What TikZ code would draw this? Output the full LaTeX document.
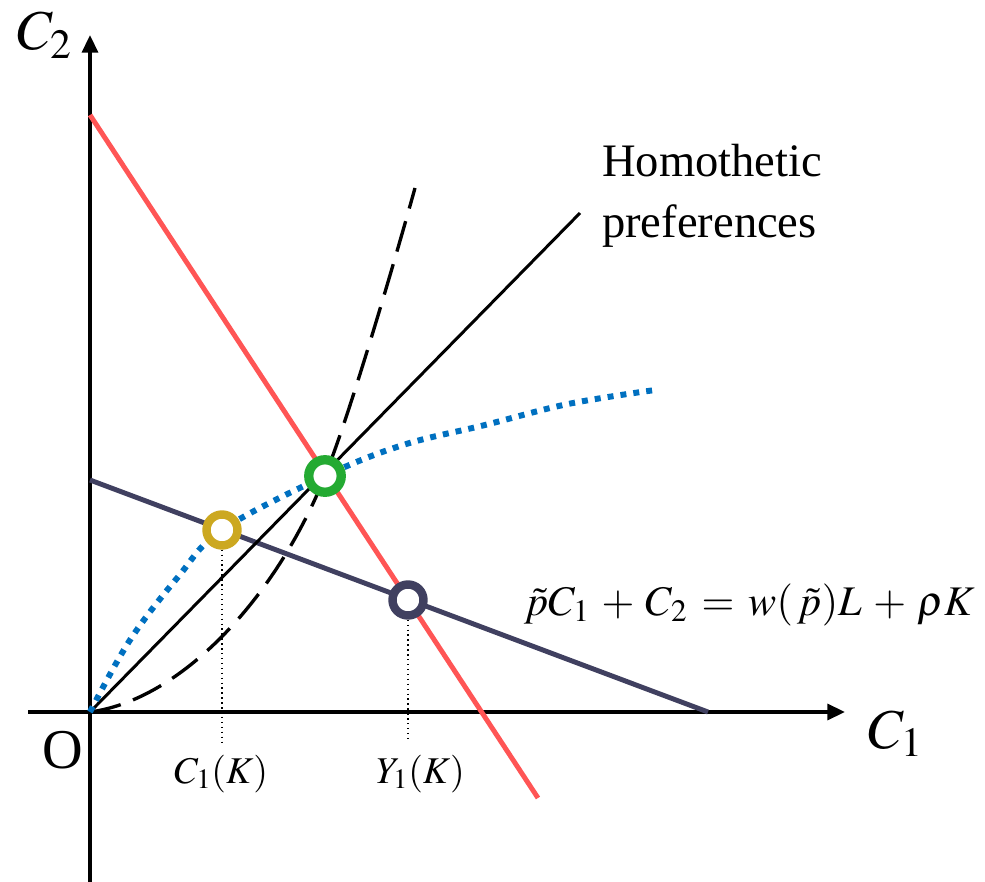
\documentclass[tikz,border=0pt]{standalone}
\usepackage{mathptmx}
\usepackage[no-math]{fontspec}
\setmainfont{Liberation Serif}
\usetikzlibrary{arrows.meta}
\definecolor{budgetred}{RGB}{255,85,85}
\definecolor{budgetnavy}{RGB}{64,64,96}
\definecolor{eqgreen}{RGB}{36,170,50}
\definecolor{autgold}{RGB}{204,168,32}
\definecolor{pathblue}{RGB}{0,112,192}

\begin{document}
\begin{tikzpicture}[x=0.02cm,y=-0.02cm,
	axis/.style={line width=2pt,-{Triangle[length=10pt,width=9pt]}},
	budget/.style={line width=2.8pt},
	ring/.style={circle,fill=white,inner sep=0pt,minimum size=0.62cm,line width=4.8pt},
	guide/.style={line width=0.8pt,dotted},
	big/.style={font=\fontsize{32}{36}\selectfont},
	mid/.style={font=\fontsize{21.5}{26}\selectfont}]
			\useasboundingbox (0,0) rectangle (985,882);
			\coordinate (O) at (90,712);
			% axes
			\draw[axis] (90,882) -- (90,35);
			\draw[axis] (28,712) -- (845,712);
			\node[big,anchor=base west] (ylab) at (11,50) {$C_2$};
			\node[big,anchor=base west] (xlab) at (862,748) {$C_1$};
			\node[big,anchor=base west] (olab) at (36,768) {O};
			% the two budget lines
			\coordinate (redtop) at (90,115);
			\coordinate (redbot) at (538,798);
			\coordinate (navytop) at (90,480);
			\coordinate (navybot) at (708,712);
			\draw[budget,budgetred] (redtop) -- (redbot);
			\draw[budget,budgetnavy] (navytop) -- (navybot);
			% homothetic ray through the optimum
			\coordinate (rayend) at (580,213);
			\draw[line width=1.7pt] (O) -- (rayend);
			% dashed expansion path
			\coordinate (eqpt) at (325,476);
			\coordinate (dashend) at (415,188);
			\draw[line width=1.9pt,dash pattern=on 18pt off 7.5pt]
				(O) .. controls (180,700) and (275,600) .. (eqpt)
				.. controls (350,414) and (395,260) .. (dashend);
			% dotted blue curve
			\draw[pathblue,line width=3.4pt,dash pattern=on 3.4pt off 4pt]
				plot[smooth,tension=0.6] coordinates {(90,712) (130,640) (178,577) (222,530) (325,476) (403,445) (485,425) (568,404) (655,390)};
			% guides down to the axis
			\coordinate (c1k) at (222,742);
			\coordinate (y1k) at (408,742);
			\node[ring,draw=autgold] (aut) at (222,530) {};
			\node[ring,draw=budgetnavy] (prod) at (408,600) {};
			\node[ring,draw=eqgreen,line width=5.3pt,minimum size=0.65cm] (eq) at (eqpt) {};
			\draw[guide] (aut) -- (c1k);
			\draw[guide] (prod) -- (y1k);
			% labels
			\node[mid,anchor=base west] (c1klab) at (168,783) {$C_1(K)$};
			\node[mid,anchor=base west] (y1klab) at (370,783) {$Y_1(K)$};
			\node[font=\fontsize{24}{28}\selectfont,anchor=base west] (budlab) at (518,615)
				{$\medmuskip=5mu\thickmuskip=6mu \tilde{p}C_1+C_2=w(\,\tilde{p})L+\rho K$};
			\node[font=\fontsize{26.5}{34}\selectfont,anchor=base west] (homlab) at (596,177) {Homothetic};
			\node[font=\fontsize{26.5}{34}\selectfont,anchor=base west] (preflab) at (596,237) {preferences};
		\end{tikzpicture}
\end{document}
